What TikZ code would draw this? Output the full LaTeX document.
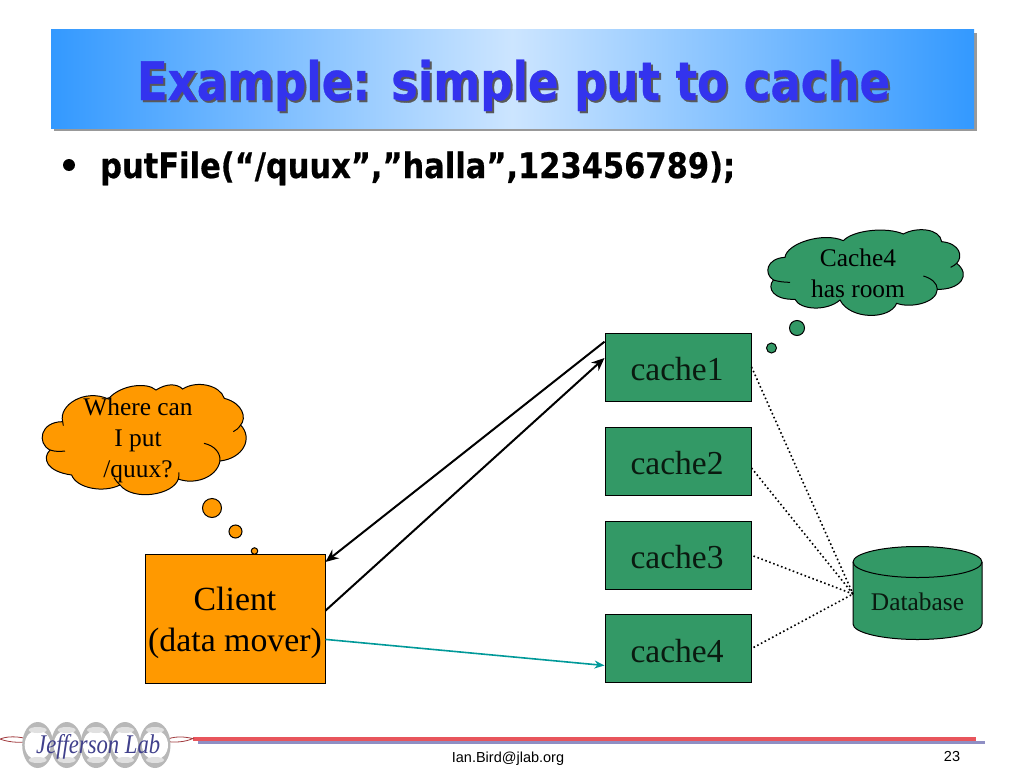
\documentclass[tikz,border=0pt]{standalone}
\usepackage{graphicx}
\usepackage{fontspec}
\setmainfont{Liberation Serif}
\newfontfamily\hdfont{DejaVu Sans}[BoldFont={DejaVu Sans Bold},BoldFeatures={FakeBold=0.6}]
\newfontfamily\footfont{Liberation Sans}
\usetikzlibrary{arrows.meta,calc}
\definecolor{cgreen}{HTML}{339966}
\definecolor{corange}{HTML}{FF9900}
\definecolor{tblue}{HTML}{3399FF}
\definecolor{tlight}{HTML}{CCE5FF}
\definecolor{ttext}{HTML}{3333EE}
\definecolor{teal2}{HTML}{009999}
\definecolor{fred}{HTML}{E8555C}
\definecolor{fpur}{HTML}{8F8FC4}
\definecolor{ink}{HTML}{0A1A10}
\tikzset{
  gbox/.style={draw=black,line width=1pt,fill=cgreen,minimum width=146pt,minimum height=68pt,inner sep=0pt},
  gtext/.style={inner sep=0pt,font=\fontsize{33.5}{37}\selectfont,text=ink},
  obox/.style={draw=black,line width=1pt,fill=corange,minimum width=180pt,minimum height=129pt,inner sep=0pt},
  otext/.style={inner sep=0pt,align=center,font=\fontsize{33.8}{41}\selectfont},
  cloudline/.style={draw=black,line width=1pt},
  cloudtext/.style={inner sep=0pt,align=center,font=\fontsize{25.4}{31}\selectfont},
  bub/.style={circle,draw=black,line width=1pt,inner sep=0pt},
  arr/.style={-{Stealth[length=13pt,width=11pt]},line width=2pt,black},
  dotl/.style={line width=1.6pt,dash pattern=on 1.6pt off 2.6pt,black},
  lens/.style={draw=fred!70!black,line width=0.8pt,fill=white},
}
\begin{document}
\begin{tikzpicture}[x=1pt,y=-1pt]
\useasboundingbox (0,0) rectangle (1024,768);
\fill[white] (0,0) rectangle (1024,768);
% title
\fill[black!40] (54,33) rectangle (977,131);
\fill[left color=tblue,right color=tblue,middle color=tlight] (51,30) rectangle (974,128);
\node[anchor=base,inner sep=0pt,text=black!65] at (515.5,102) {\resizebox{753pt}{\height}{\hdfont\bfseries\fontsize{53}{60}\selectfont Example: simple put to cache}};
\node[anchor=base,inner sep=0pt,text=ttext] (title) at (513.5,100) {\resizebox{753pt}{\height}{\hdfont\bfseries\fontsize{53}{60}\selectfont Example: simple put to cache}};
% bullet
\node[circle,fill=black,inner sep=0pt,minimum size=12pt] (bullet) at (69,165) {};
\node[anchor=base west,inner sep=0pt] (put) at (100,178) {\resizebox{635pt}{\height}{\hdfont\bfseries\fontsize{35}{38}\selectfont putFile(“/quux”,”halla”,123456789);}};
% left cloud
\begin{scope}[shift={(30,375)},x=0.3333pt,y=-0.3333pt]
\path[cloudline,fill=corange] (98,140) .. controls (85,90) and (165,40) .. (235,72)
 .. controls (270,30) and (350,20) .. (378,45)
 .. controls (410,25) and (440,25) .. (458,42)
 .. controls (500,15) and (570,30) .. (583,70)
 .. controls (640,85) and (650,130) .. (632,150)
 .. controls (670,190) and (640,250) .. (570,258)
 .. controls (560,310) and (490,330) .. (445,312)
 .. controls (430,360) and (310,380) .. (270,330)
 .. controls (220,355) and (140,340) .. (125,300)
 .. controls (50,290) and (35,250) .. (60,225)
 .. controls (20,205) and (30,140) .. (98,140) -- cycle;
\draw[cloudline] (60,225) .. controls (75,230) and (90,230) .. (105,228);
\draw[cloudline] (522,205) .. controls (555,212) and (572,235) .. (570,258);
\draw[cloudline] (98,140) .. controls (98,145) and (98,148) .. (100,152);
\draw[cloudline] (632,150) .. controls (625,160) and (620,165) .. (610,170);
\draw[cloudline] (445,312) .. controls (447,305) and (447,300) .. (447,292);
\draw[cloudline] (270,330) .. controls (262,322) and (258,318) .. (252,308);
\end{scope}
\node[cloudtext] (q) at (138,440) {Where can\\I put\\/quux?};
\node[bub,fill=corange,minimum size=19pt] (b1) at (212,508) {};
\node[bub,fill=corange,minimum size=13pt] (b2) at (235.5,531.5) {};
\node[bub,fill=corange,minimum size=6.5pt] (b3) at (254.5,551) {};
% right cloud
\begin{scope}[shift={(740,220)},x=0.3333pt,y=-0.3333pt]
\path[cloudline,fill=cgreen] (135,112) .. controls (140,70) and (250,35) .. (310,62)
 .. controls (340,30) and (440,20) .. (490,42)
 .. controls (530,20) and (600,25) .. (605,65)
 .. controls (660,70) and (670,110) .. (650,130)
 .. controls (695,165) and (660,210) .. (592,208)
 .. controls (590,250) and (510,265) .. (470,250)
 .. controls (450,300) and (330,300) .. (300,240)
 .. controls (260,275) and (180,270) .. (165,238)
 .. controls (100,240) and (80,205) .. (100,180)
 .. controls (70,160) and (80,115) .. (135,112) -- cycle;
\draw[cloudline] (100,180) .. controls (115,185) and (135,187) .. (150,187);
\draw[cloudline] (550,168) .. controls (575,175) and (592,190) .. (592,208);
\draw[cloudline] (650,130) .. controls (645,135) and (640,138) .. (632,142);
\end{scope}
\node[cloudtext] (c4room) at (858,273.5) {Cache4\\has room};
\node[bub,fill=cgreen,minimum size=15pt] (g1) at (797,328) {};
\node[bub,fill=cgreen,minimum size=10pt] (g2) at (771.5,348) {};
% boxes
\node[gbox] (cache1) at (678,367) {};
\node[gbox] (cache2) at (678,461) {};
\node[gbox] (cache3) at (678,555) {};
\node[gbox] (cache4) at (678,648.5) {};
\node[gtext] (t1) at (677,369) {cache1};
\node[gtext] (t2) at (677,463) {cache2};
\node[gtext] (t3) at (677,557) {cache3};
\node[gtext] (t4) at (677,651) {cache4};
\node[obox] (client) at (235,618.5) {};
\node[otext] (clienttext) at (235,623) {Client\\(data mover)};
% database
\path[cloudline,fill=cgreen] (853,562) -- (853,624) arc[x radius=64.5,y radius=15.5,start angle=180,end angle=0] -- (982,562) arc[x radius=64.5,y radius=15.5,start angle=0,end angle=-180] -- cycle;
\draw[cloudline] (853,562) arc[x radius=64.5,y radius=15.5,start angle=180,end angle=0];
\node[inner sep=0pt,font=\fontsize{25.4}{30}\selectfont,text=ink] (db) at (917.5,602) {Database};
\coordinate (dbw) at (853,594);
% connectors
\draw[arr] (cache1.161) -- (client.32);
\draw[arr] (client.5) -- (cache1.173);
\draw[-{Stealth[length=10pt,width=8pt]},line width=1.6pt,teal2] (client.-13) -- (cache4.193);
\draw[dotl] (cache1.east) -- (dbw);
\draw[dotl] (cache2.east) ++(0,7) -- (dbw);
\draw[dotl] (cache3.east) ++(2,1) -- (dbw);
\draw[dotl] (cache4.east) ++(2,-1) -- (dbw);
% footer
\fill[fred] (193,737) rectangle (976,740.5);
\fill[fpur] (198,740.5) rectangle (985,743.7);
\draw[lens] (0,739) .. controls (10,735) and (25,737) .. (32,741) .. controls (25,743) and (10,743) .. (0,739) -- cycle;
\draw[lens] (163,741) .. controls (175,735) and (185,737) .. (193,738.5) .. controls (185,742) and (175,743) .. (163,741) -- cycle;
\foreach \cx in {37.7,66.7,96,125,155}{
  \fill[black!28] (\cx,745) ellipse[x radius=15.5,y radius=23];
  \fill[white] (\cx,745) ellipse[x radius=13,y radius=15];
  \fill[black!12] (\cx,730) ellipse[x radius=9,y radius=3];
  \fill[black!12] (\cx,760) ellipse[x radius=9,y radius=3];
}
\node[anchor=base west,inner sep=0pt,text=blue!40!black!75] (logo) at (36,753) {\resizebox{124pt}{\height}{\itshape\fontsize{27}{30}\selectfont Jefferson Lab}};
\node[anchor=base,inner sep=0pt,font=\footfont\fontsize{14.5}{17}\selectfont] (mail) at (508,762) {Ian.Bird@jlab.org};
\node[anchor=base,inner sep=0pt,font=\footfont\fontsize{14.5}{17}\selectfont] (pg) at (952,761) {23};
\end{tikzpicture}
\end{document}
